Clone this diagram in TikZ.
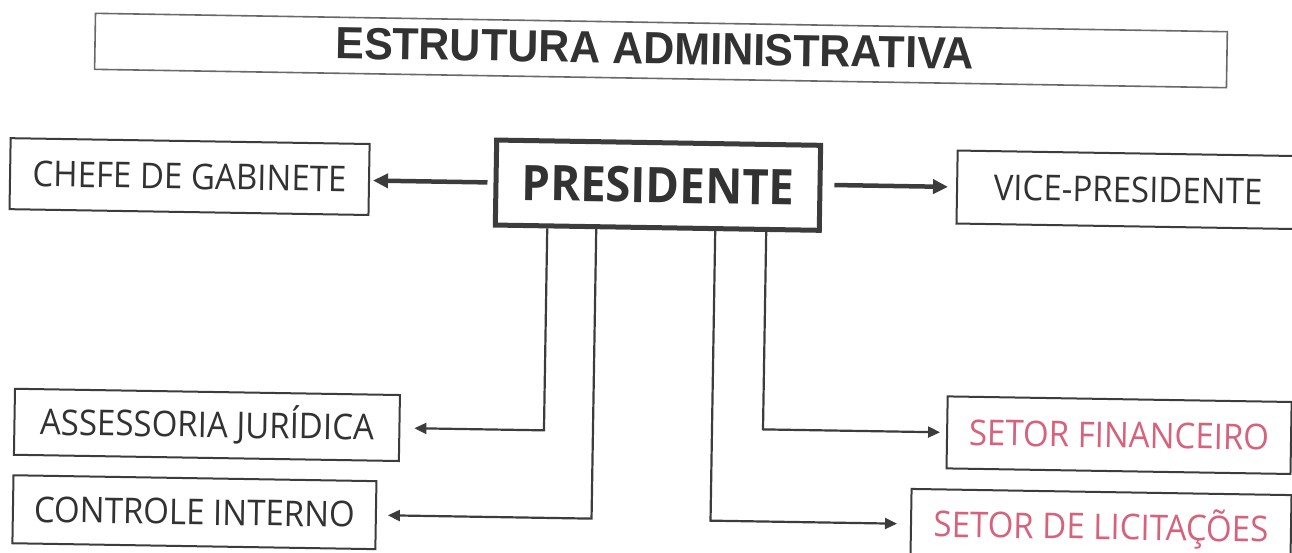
\documentclass[tikz,border=0pt]{standalone}
\usepackage{fontspec}
\usetikzlibrary{arrows.meta}
\newfontfamily\boxfont[FakeStretch=0.93]{Open Sans}
\newfontfamily\titlefont[FakeStretch=0.955]{Liberation Sans}
\definecolor{ink}{RGB}{50,50,50}
\definecolor{lineink}{RGB}{60,60,60}
\definecolor{pinkink}{RGB}{214,98,124}
\definecolor{frameink}{RGB}{105,105,105}
\begin{document}
\begin{tikzpicture}[x=1pt,y=-1pt,
  unitbox/.style={draw=lineink, line width=2pt, inner sep=0pt, text=ink,
    font=\boxfont\fontsize{35.5pt}{40pt}\selectfont, text height=25pt, text depth=0pt},
  pinkbox/.style={unitbox, text=pinkink},
  presbox/.style={draw=lineink, line width=5pt, inner sep=0pt, text=ink,
    font=\boxfont\bfseries\fontsize{49pt}{56pt}\selectfont, text height=35pt, text depth=0pt,
    minimum width=324pt, minimum height=85pt},
  titleframe/.style={draw=frameink, line width=1.6pt, inner sep=0pt,
    minimum width=1132pt, minimum height=56pt},
  titletext/.style={inner sep=0pt, text=ink,
    font=\titlefont\bfseries\fontsize{45pt}{52pt}\selectfont, text height=32pt, text depth=0pt},
  bigarrow/.style={draw=lineink, line width=4.5pt, -{Triangle[length=15pt,width=14pt]}},
  smallarrow/.style={draw=lineink, line width=2.2pt, -{Triangle[length=12pt,width=11pt]}}
]
\useasboundingbox (0,0) rectangle (1292,553);
\fill[white] (0,0) rectangle (1292,553);
\clip (0,0) rectangle (1292,553);
\begin{scope}[rotate around={-0.93:(646,276)}, transform shape]
  \node[titleframe] (titlebox) at (657.3,50.3) {};
  \node[titletext] (title) at (651,47.7) {ESTRUTURA ADMINISTRATIVA};

  \node[presbox] (pres) at (656.5,185) {PRESIDENTE};
  \node[unitbox, minimum width=359pt, minimum height=71pt] (chefe) at (188,184) {CHEFE DE GABINETE};
  \node[unitbox, minimum width=342pt, minimum height=73pt] (vice) at (1126.6,182) {VICE-PRESIDENTE};
  \node[unitbox, minimum width=385pt, minimum height=66pt] (assess) at (209.4,432) {ASSESSORIA JURÍDICA};
  \node[unitbox, minimum width=363pt, minimum height=68pt] (controle) at (198.3,519.5) {CONTROLE INTERNO};
  \node[pinkbox, minimum width=344pt, minimum height=72pt] (financ) at (1121.6,427.5) {SETOR FINANCEIRO};
  \node[pinkbox, minimum width=380pt, minimum height=70pt] (licit) at (1105,519.6) {SETOR DE LICITAÇÕES};

  \draw[bigarrow, shorten <=6pt, shorten >=3pt] (pres.west) -- (pres.west -| chefe.east);
  \draw[bigarrow, shorten <=12pt, shorten >=8pt] (pres.east |- vice.west) -- (vice.west);

  \draw[smallarrow, shorten >=14pt] ([xshift=-110pt]pres.south) |- (assess.east);
  \draw[smallarrow, shorten >=11pt] ([xshift=-61pt]pres.south) |- (controle.east);
  \draw[smallarrow, shorten >=13pt] ([xshift=58pt]pres.south) |- (licit.west);
  \draw[smallarrow, shorten >=6pt] ([xshift=109pt]pres.south) |- (financ.west);
\end{scope}
\end{tikzpicture}
\end{document}
